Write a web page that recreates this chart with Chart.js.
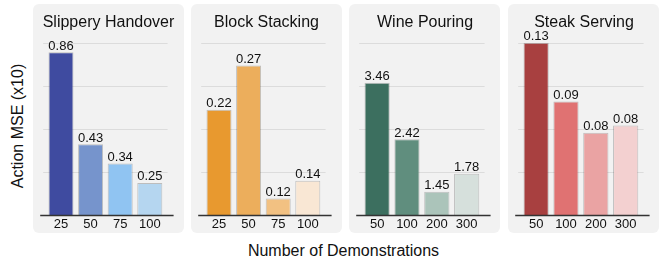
<!DOCTYPE html>
<html><head><meta charset="utf-8">
<script src="https://cdn.jsdelivr.net/npm/chart.js@4/dist/chart.umd.min.js"></script>
<style>
html,body{margin:0;padding:0;background:#fff;width:661px;height:261px;overflow:hidden;font-family:"Liberation Sans",Arial,sans-serif;}
.panel{position:absolute;top:4px;width:151px;height:229px;background:#f2f2f2;border-radius:6px;}
.panel canvas{position:absolute;left:0;top:0;}
#ylab{position:absolute;left:17.5px;top:126px;transform:translate(-50%,-50%) rotate(-90deg);font-size:16px;white-space:nowrap;color:#111;}
#xlab{position:absolute;left:343.5px;top:251px;transform:translate(-50%,-50%);font-size:16px;white-space:nowrap;color:#111;}
</style></head><body>
<div class="panel" style="left:33px"><canvas id="c0" width="151" height="229"></canvas></div>
<div class="panel" style="left:191px"><canvas id="c1" width="151" height="229"></canvas></div>
<div class="panel" style="left:349px"><canvas id="c2" width="152" height="229"></canvas></div>
<div class="panel" style="left:508px"><canvas id="c3" width="152" height="229"></canvas></div>
<div id="ylab">Action MSE (x10)</div>
<div id="xlab">Number of Demonstrations</div>
<script>
// ---- data ----
const titles = ["Slippery Handover", "Block Stacking", "Wine Pouring", "Steak Serving"];
const demosHandover = ["25", "50", "75", "100"];
const demosStacking = ["25", "50", "75", "100"];
const demosPouring = ["50", "100", "200", "300"];
const demosSteak = ["50", "100", "200", "300"];
const mseHandover = [0.86, 0.43, 0.34, 0.25];
const mseStacking = [0.22, 0.27, 0.12, 0.14];
const msePouring = [3.46, 2.42, 1.45, 1.78];
const mseSteak = [0.126, 0.094, 0.077, 0.081];
const yRangeHandover = [0.098, 0.904];
const yRangeStacking = [0.1007, 0.2957];
const yRangePouring = [1.010, 4.201];
const yRangeSteak = [0.032, 0.126];
const colorsHandover = ["#3f4ba0", "#7694cc", "#90c4f2", "#b5d6f0"];
const colorsStacking = ["#e8992f", "#ecae5c", "#f2c182", "#f9e7d4"];
const colorsPouring = ["#3c6f5f", "#608e7e", "#abc4ba", "#d6e0dc"];
const colorsSteak = ["#a84040", "#e07272", "#eaa3a3", "#f3d0d0"];

const panels = [
  [titles[0], demosHandover, mseHandover, yRangeHandover, colorsHandover],
  [titles[1], demosStacking, mseStacking, yRangeStacking, colorsStacking],
  [titles[2], demosPouring, msePouring, yRangePouring, colorsPouring],
  [titles[3], demosSteak, mseSteak, yRangeSteak, colorsSteak]
];
const FONT = '"Liberation Sans", Arial, sans-serif';

const gridPlugin = {
  id: 'gridLines',
  beforeDatasetsDraw(chart) {
    const ys = chart.scales.y, a = chart.chartArea, ctx = chart.ctx;
    const mn = ys.min, mx = ys.max;
    ctx.save();
    ctx.strokeStyle = '#dcdcdc';
    ctx.lineWidth = 1;
    for (let k = 1; k <= 4; k++) {
      const y = Math.round(ys.getPixelForValue(mn + k * (mx - mn) / 4)) + 0.5;
      ctx.beginPath(); ctx.moveTo(a.left - 3, y); ctx.lineTo(a.right + 3, y); ctx.stroke();
    }
    ctx.restore();
  },
  afterDatasetsDraw(chart) {
    const ys = chart.scales.y, a = chart.chartArea, ctx = chart.ctx;
    ctx.save();
    ctx.strokeStyle = '#333';
    ctx.lineWidth = 1.3;
    const y = ys.getPixelForValue(ys.min);
    ctx.beginPath(); ctx.moveTo(a.left - 6, y); ctx.lineTo(a.right + 9, y); ctx.stroke();
    // value labels
    ctx.fillStyle = '#111';
    ctx.font = '13px ' + FONT;
    ctx.textAlign = 'center';
    ctx.textBaseline = 'alphabetic';
    const meta = chart.getDatasetMeta(0);
    const data = chart.data.datasets[0].data;
    meta.data.forEach((bar, i) => {
      ctx.fillText(data[i].toFixed(2), bar.x, bar.y - 2.5);
    });
    ctx.restore();
  }
};

panels.forEach((p, idx) => {
  const [title, labels, values, range, colors] = p;
  new Chart(document.getElementById('c' + idx), {
    type: 'bar',
    data: {
      labels: labels,
      datasets: [{
        data: values,
        backgroundColor: colors,
        borderColor: 'rgba(0,0,0,0.22)',
        borderWidth: 1,
        barPercentage: 0.845,
        categoryPercentage: 1
      }]
    },
    options: {
      responsive: false,
      animation: false,
      devicePixelRatio: 1,
      layout: { padding: 0 },
      plugins: {
        legend: { display: false },
        tooltip: { enabled: false },
        title: {
          display: true, text: title, color: '#111',
          font: { family: FONT, size: 16, weight: 'normal' },
          padding: { top: 8.5, bottom: 11 }
        }
      },
      scales: {
        x: {
          grid: { display: false, drawTicks: false }, border: { display: false },
          ticks: { font: { family: FONT, size: 13 }, color: '#111', padding: 1, maxRotation: 0, autoSkip: false },
          afterFit: s => { s.height = 17.5; }
        },
        y: {
          min: range[0], max: range[1],
          grid: { display: false, drawTicks: false }, border: { display: false },
          ticks: { display: false },
          afterFit: s => { s.width = 13.2; }
        },
        yR: {
          position: 'right',
          grid: { display: false, drawTicks: false }, border: { display: false },
          ticks: { display: false },
          afterFit: s => { s.width = 19.4; }
        }
      }
    },
    plugins: [gridPlugin]
  });
});
</script>
</body></html>
